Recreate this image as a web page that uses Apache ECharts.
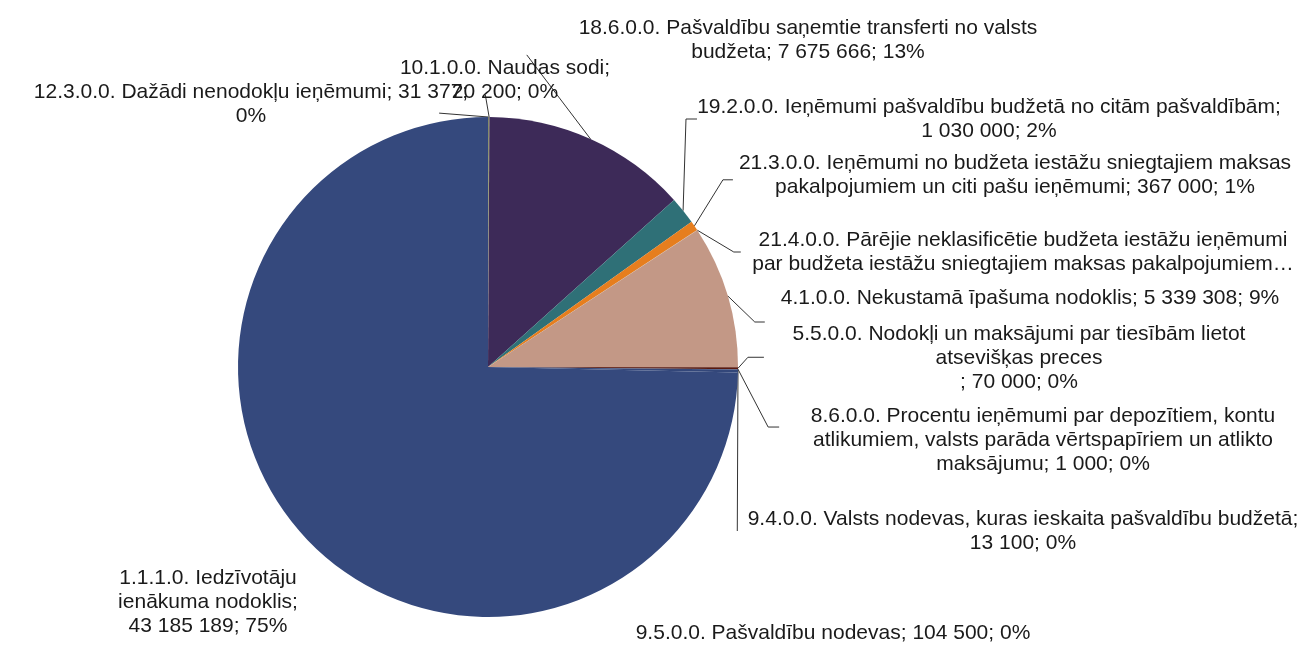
<!DOCTYPE html>
<html>
<head>
<meta charset="utf-8">
<script src="https://cdn.jsdelivr.net/npm/echarts@6/dist/echarts.min.js"></script>
<style>
  html, body { margin: 0; padding: 0; background: #fff; }
  #chart { width: 1311px; height: 647px; }
</style>
</head>
<body>
<div id="chart"></div>
<script>
// budžeta ieņēmumi pa kodiem (clockwise from 12 o'clock)
const names = [
  '12.3.0.0. Dažādi nenodokļu ieņēmumi',
  '10.1.0.0. Naudas sodi',
  '18.6.0.0. Pašvaldību saņemtie transferti no valsts budžeta',
  '19.2.0.0. Ieņēmumi pašvaldību budžetā no citām pašvaldībām',
  '21.3.0.0. Ieņēmumi no budžeta iestāžu sniegtajiem maksas pakalpojumiem un citi pašu ieņēmumi',
  '21.4.0.0. Pārējie neklasificētie budžeta iestāžu ieņēmumi par budžeta iestāžu sniegtajiem maksas pakalpojumiem…',
  '4.1.0.0. Nekustamā īpašuma nodoklis',
  '5.5.0.0. Nodokļi un maksājumi par tiesībām lietot atsevišķas preces\n',
  '8.6.0.0. Procentu ieņēmumi par depozītiem, kontu atlikumiem, valsts parāda vērtspapīriem un atlikto maksājumu',
  '9.4.0.0. Valsts nodevas, kuras ieskaita pašvaldību budžetā',
  '9.5.0.0. Pašvaldību nodevas',
  '1.1.1.0. Iedzīvotāju ienākuma nodoklis'
];
const values = [31377, 20200, 7675666, 1030000, 367000, 10000, 5339308, 70000, 1000, 13100, 104500, 43185189];
const colors = ['#6b7450', '#8a8a5a', '#3d2a58', '#2f7077', '#e67e1e', '#c4a080', '#c39886', '#5a1a10', '#3a2020', '#2a3050', '#33477a', '#35497d'];

// label text boxes: centre, words per wrapped line, leader line end [fx, fy, elbow dx] in the box
const labelCenters = [[251, 104], [505, 80], [808, 40], [989, 119], [1015, 175], [1023, 252], [1030, 298], [1019, 358], [1043, 440], [1023, 531], [833, 633], [208, 602]];
const lineWords = [[6], [3], [6], [7], [7], [6], [], [7], [6, 6], [7], [], [2, 2]];
const lineAttach = [[0.947, 0.69, 0], [0.435, 0.81, 0], [-0.1, 0.81, 0], [0.01, 0.5, -11], [0, 0.6, -10], [-0.01, 0.5, -7], [-0.02, 1.5, -10], [-0.05, 0.49, -16], [-0.055, 0.32, -11], [-0.008, 0.5, 0], null, null];

function fmt(v) {
  return String(v).replace(/\B(?=(\d{3})+(?!\d))/g, ' ');
}

function wrap(text, counts) {
  const words = text.split(' ');
  const lines = [];
  let k = 0;
  counts.forEach(n => { lines.push(words.slice(k, k + n).join(' ')); k += n; });
  lines.push(words.slice(k).join(' '));
  return lines.join('\n');
}

const data = names.map((n, i) => ({
  name: n,
  value: values[i],
  itemStyle: { color: colors[i] },
  labelLine: { show: lineAttach[i] !== null }
}));

const chart = echarts.init(document.getElementById('chart'));
chart.setOption({
  backgroundColor: '#ffffff',
  animation: false,
  series: [{
    type: 'pie',
    center: [488, 367],
    radius: 250,
    startAngle: 90,
    clockwise: true,
    percentPrecision: 0,
    avoidLabelOverlap: false,
    data: data,
    itemStyle: { borderWidth: 0 },
    label: {
      show: true,
      position: 'outside',
      color: '#1a1a1a',
      fontFamily: 'Liberation Sans, Arial, sans-serif',
      fontSize: 21,
      lineHeight: 24,
      align: 'center',
      formatter: p => {
        // the long 21.4.0.0 label is cut off in the source
        const txt = p.name.endsWith('…') ? p.name : p.name + '; ' + fmt(p.value) + '; ' + p.percent + '%';
        return wrap(txt, lineWords[p.dataIndex]);
      }
    },
    labelLine: {
      show: true,
      length: 10,
      length2: 10,
      lineStyle: { color: '#333', width: 1 }
    },
    labelLayout: function (p) {
      const i = p.dataIndex;
      const c = labelCenters[i];
      const w = p.labelRect.width, h = p.labelRect.height;
      const res = { x: c[0], y: c[1], align: 'center', verticalAlign: 'middle' };
      const a = lineAttach[i];
      if (a && p.labelLinePoints) {
        const start = p.labelLinePoints[0];
        const end = [c[0] - w / 2 + a[0] * w - 6, c[1] - h / 2 + a[1] * h];
        const elbow = [end[0] + a[2], end[1]];
        res.labelLinePoints = [start, elbow, end];
      }
      return res;
    }
  }]
});
</script>
</body>
</html>
